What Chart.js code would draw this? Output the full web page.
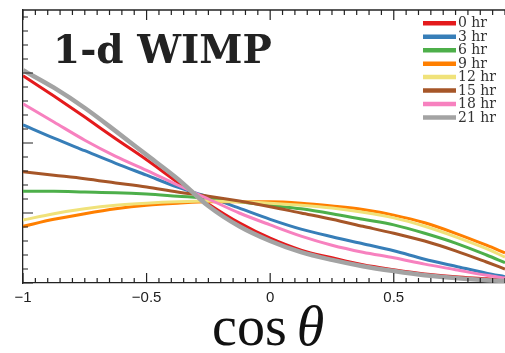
<!DOCTYPE html>
<html lang="en">
<head>
<meta charset="UTF-8">
<title>1-d WIMP</title>
<script src="https://cdn.jsdelivr.net/npm/chart.js"></script>
<style>
  html, body { margin: 0; padding: 0; background: #fff; }
</style>
</head>
<body>
<canvas id="chart" width="505" height="353"></canvas>
<script>
// x positions (cos theta) and curve heights (arbitrary units)
const cosTheta = [-1, -0.875, -0.75, -0.625, -0.5, -0.375, -0.25, -0.125, 0,
                  0.125, 0.25, 0.375, 0.5, 0.625, 0.75, 0.875, 0.95];
const hourLabels = ['0 hr', '3 hr', '6 hr', '9 hr', '12 hr', '15 hr', '18 hr', '21 hr'];
const hr0  = [2.96, 2.67, 2.37, 2.06, 1.76, 1.44, 1.13, 0.86, 0.64, 0.47, 0.36, 0.26, 0.19, 0.13, 0.09, 0.06, 0.04];
const hr3  = [2.26, 2.07, 1.89, 1.71, 1.54, 1.37, 1.23, 1.07, 0.91, 0.77, 0.66, 0.56, 0.46, 0.34, 0.24, 0.14, 0.09];
const hr6  = [1.31, 1.31, 1.30, 1.29, 1.27, 1.24, 1.21, 1.16, 1.11, 1.06, 0.99, 0.91, 0.83, 0.71, 0.57, 0.40, 0.29];
const hr9  = [0.81, 0.91, 0.99, 1.06, 1.11, 1.14, 1.16, 1.16, 1.16, 1.14, 1.10, 1.05, 0.97, 0.86, 0.71, 0.54, 0.43];
const hr12 = [0.90, 0.99, 1.06, 1.11, 1.14, 1.16, 1.17, 1.16, 1.14, 1.11, 1.07, 1.01, 0.93, 0.81, 0.66, 0.49, 0.37];
const hr15 = [1.59, 1.54, 1.49, 1.43, 1.37, 1.30, 1.24, 1.17, 1.09, 1.00, 0.91, 0.81, 0.71, 0.60, 0.46, 0.30, 0.20];
const hr18 = [2.56, 2.30, 2.04, 1.81, 1.61, 1.40, 1.20, 1.00, 0.83, 0.67, 0.54, 0.44, 0.36, 0.27, 0.19, 0.11, 0.07];
const hr21 = [3.04, 2.79, 2.50, 2.17, 1.83, 1.49, 1.10, 0.81, 0.60, 0.44, 0.33, 0.24, 0.17, 0.11, 0.07, 0.04, 0.03];
const xTicks = [-1, -0.5, 0, 0.5];

const series = [hr0, hr3, hr6, hr9, hr12, hr15, hr18, hr21];
const colors = ['#e41a1c', '#377eb8', '#4daf4a', '#ff7f00', '#f0e27a', '#a65628', '#f781bf', '#a3a3a3'];

const datasets = series.map((vals, i) => ({
  label: hourLabels[i],
  data: vals.map((v, j) => ({ x: cosTheta[j], y: v })),
  borderColor: colors[i],
  borderWidth: i === 7 ? 4.5 : 3,
  pointRadius: 0,
  fill: false,
  cubicInterpolationMode: 'monotone',
  order: 7 - i
}));

// frame, inward ticks, panel label, legend and axis title
const extras = {
  id: 'extras',
  afterDraw(chart) {
    const { ctx, chartArea: a, scales: { x, y } } = chart;
    ctx.save();
    ctx.strokeStyle = '#222';
    ctx.lineWidth = 1.3;
    ctx.beginPath();
    ctx.moveTo(a.left, a.top);
    ctx.lineTo(a.right + 1, a.top);
    ctx.stroke();

    ctx.lineWidth = 1.2;
    ctx.beginPath();
    for (let i = -20; i <= 20; i++) {
      const px = x.getPixelForValue(i * 0.05);
      if (px > a.right + 0.5) continue;
      const len = i % 10 === 0 ? 10 : 5;
      ctx.moveTo(px, a.bottom); ctx.lineTo(px, a.bottom - len);
      ctx.moveTo(px, a.top); ctx.lineTo(px, a.top + len);
    }
    for (let i = 0; i <= 19; i++) {
      const py = y.getPixelForValue(i * 0.2);
      if (py < a.top - 0.5) continue;
      const len = i % 5 === 0 ? 10 : 5;
      ctx.moveTo(a.left, py); ctx.lineTo(a.left + len, py);
    }
    ctx.stroke();

    // panel label
    ctx.fillStyle = '#222';
    ctx.font = 'bold 39px "DejaVu Serif"';
    ctx.textAlign = 'left';
    ctx.textBaseline = 'alphabetic';
    ctx.fillText('1-d WIMP', 53, 63);

    // legend
    ctx.font = '14px "DejaVu Serif"';
    ctx.textBaseline = 'middle';
    chart.data.datasets.forEach((ds, i) => {
      const ly = 23.3 + i * 13.45;
      ctx.strokeStyle = ds.borderColor;
      ctx.lineWidth = 4.5;
      ctx.beginPath();
      ctx.moveTo(423, ly); ctx.lineTo(456, ly);
      ctx.stroke();
      ctx.fillStyle = '#333';
      ctx.fillText(ds.label, 458, ly + 0.5);
    });

    // axis title: cos θ
    ctx.fillStyle = '#111';
    ctx.textBaseline = 'alphabetic';
    const roman = '56px "Liberation Serif"';
    const italic = 'italic 56px "Liberation Serif"';
    ctx.font = roman;
    const wCos = ctx.measureText('cos').width;
    ctx.font = italic;
    const wTh = ctx.measureText('θ').width;
    const gap = 10;
    const cx = x.getPixelForValue(0);
    const start = cx - (wCos + gap + wTh) / 2 - 2;
    ctx.font = roman;
    ctx.fillText('cos', start, 345);
    ctx.font = italic;
    ctx.fillText('θ', start + wCos + gap, 345);
    ctx.restore();
  }
};

new Chart(document.getElementById('chart'), {
  type: 'line',
  data: { datasets },
  options: {
    responsive: false,
    animation: false,
    devicePixelRatio: 1,
    layout: { padding: { top: 10, left: 0, right: 0, bottom: 0 } },
    plugins: { legend: { display: false }, tooltip: { enabled: false } },
    scales: {
      x: {
        type: 'linear',
        min: -1,
        max: 0.95,
        grid: { display: false, drawTicks: false },
        border: { display: true, color: '#222', width: 1.3 },
        afterBuildTicks: s => { s.ticks = xTicks.map(v => ({ value: v })); },
        ticks: {
          padding: 6,
          color: '#222',
          maxRotation: 0,
          autoSkip: false,
          font: { family: 'Liberation Sans', size: 15 },
          callback: v => (v < 0 ? '\u2212' + Math.abs(v) : String(v))
        },
        afterFit: s => { s.height = 70; }
      },
      y: {
        type: 'linear',
        min: 0,
        max: 3.9,
        grid: { display: false, drawTicks: false },
        border: { display: true, color: '#222', width: 1.3 },
        ticks: { display: false },
        afterFit: s => { s.width = 23; }
      }
    }
  },
  plugins: [extras]
});
</script>
</body>
</html>
